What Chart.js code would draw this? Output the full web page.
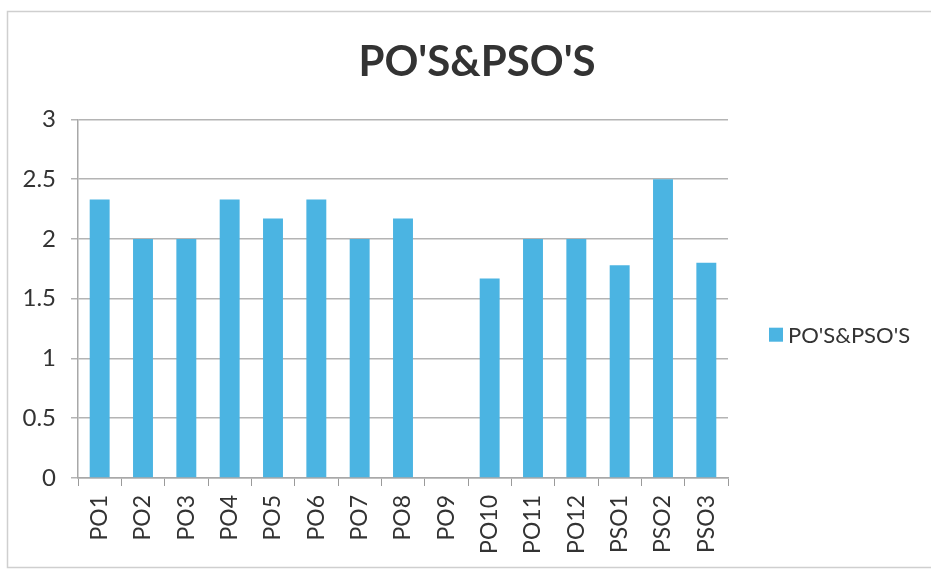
<!DOCTYPE html>
<html>
<head>
<meta charset="utf-8">
<script src="https://cdn.jsdelivr.net/npm/chart.js@4/dist/chart.umd.min.js"></script>
<style>
  html, body { margin: 0; padding: 0; background: #ffffff; }
  #wrap { width: 931px; height: 571px; }
</style>
</head>
<body>
<div id="wrap"><canvas id="c" width="931" height="571"></canvas></div>
<script>
const categories = ["PO1","PO2","PO3","PO4","PO5","PO6","PO7","PO8","PO9","PO10","PO11","PO12","PSO1","PSO2","PSO3"];
const seriesLabel = "PO'S&PSO'S";
const seriesValues = [2.33, 2, 2, 2.33, 2.17, 2.33, 2, 2.17, 0, 1.67, 2, 2, 1.78, 2.5, 1.8];
const chartTitle = "PO'S&PSO'S";
const yMin = 0, yMax = 3, yStep = 0.5;

const barColor = '#4BB4E2';
const textColor = '#333333';

const frameAndLegend = {
  id: 'frameAndLegend',
  afterLayout(chart) {
    // centre the title over the whole chart frame, as in the reference
    const t = chart.titleBlock;
    if (t) { t.left = 23; t.right = 931; }
  },
  afterDraw(chart) {
    const ctx = chart.ctx;
    const a = chart.chartArea;
    ctx.save();
    // outer chart frame
    ctx.strokeStyle = '#cfcfcf';
    ctx.lineWidth = 1.5;
    ctx.beginPath();
    ctx.moveTo(931, 11.5);
    ctx.lineTo(7.5, 11.5);
    ctx.lineTo(7.5, 567.5);
    ctx.lineTo(931, 567.5);
    ctx.stroke();
    // legend
    const ds = chart.data.datasets[0];
    const lx = a.right + 41;
    const ly = (a.top + a.bottom) / 2 + 36;
    ctx.fillStyle = ds.backgroundColor;
    ctx.fillRect(lx, ly - 7, 14, 14);
    ctx.fillStyle = textColor;
    ctx.font = '22px Lato';
    ctx.textBaseline = 'middle';
    ctx.textAlign = 'left';
    ctx.fillText(ds.label, lx + 19, ly + 1);
    ctx.restore();
  }
};

new Chart(document.getElementById('c'), {
  type: 'bar',
  data: {
    labels: categories,
    datasets: [{
      label: seriesLabel,
      data: seriesValues,
      backgroundColor: barColor,
      borderWidth: 0,
      barPercentage: 0.92,
      categoryPercentage: 0.5
    }]
  },
  options: {
    responsive: false,
    animation: false,
    devicePixelRatio: 1,
    layout: { padding: { left: 0, right: 203, top: 0, bottom: 6 } },
    plugins: {
      legend: { display: false },
      tooltip: { enabled: false },
      title: {
        display: true,
        text: chartTitle,
        color: textColor,
        font: { family: 'Lato', size: 42, weight: 'bold', lineHeight: 1.2 },
        padding: { top: 37, bottom: 32 }
      }
    },
    scales: {
      x: {
        offset: true,
        grid: {
          offset: true,
          drawOnChartArea: false,
          drawTicks: true,
          tickLength: 8,
          color: '#9a9a9a'
        },
        border: { display: true, color: '#a8a8a8', width: 1.5 },
        ticks: {
          color: textColor,
          font: { family: 'Lato', size: 23 },
          minRotation: 90,
          maxRotation: 90,
          autoSkip: false,
          padding: 9
        },
        afterFit(scale) { scale.height = 87; }
      },
      y: {
        min: yMin,
        max: yMax,
        grid: {
          color: '#b4b4b4',
          lineWidth: 1.5,
          tickLength: 7
        },
        border: { display: true, color: '#a8a8a8', width: 1.5 },
        ticks: {
          stepSize: yStep,
          color: textColor,
          font: { family: 'Lato', size: 24 },
          padding: 15,
          callback: (v) => String(+v)
        },
        afterFit(scale) { scale.width = 78; }
      }
    }
  },
  plugins: [frameAndLegend]
});
</script>
</body>
</html>
